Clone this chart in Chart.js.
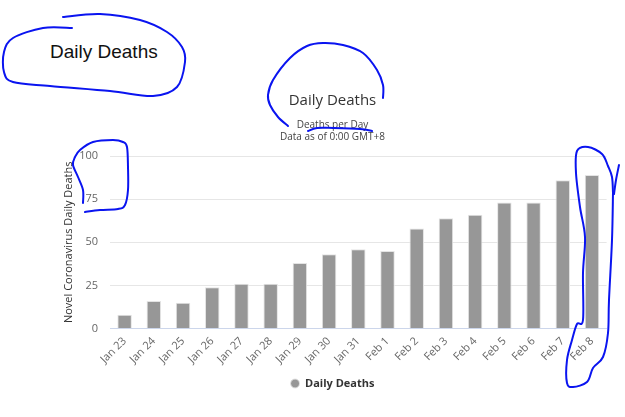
<!DOCTYPE html>
<html>
<head>
<meta charset="utf-8">
<script src="https://cdn.jsdelivr.net/npm/chart.js@4"></script>
<style>
  html, body { margin: 0; padding: 0; background: #fff; }
  #page { position: relative; width: 625px; height: 417px; overflow: hidden; }
  #note { position: absolute; left: 50px; top: 41px; font: 19px 'Liberation Sans', Arial, sans-serif; color: #111; line-height: 22px; }
  #wrap { position: absolute; left: 40px; top: 85px; width: 585px; height: 332px; }
  #ink { position: absolute; left: 0; top: 0; pointer-events: none; }
</style>
</head>
<body>
<div id="page">
  <div id="note">Daily Deaths</div>
  <div id="wrap"><canvas id="deaths-chart"></canvas></div>
  <svg id="ink" width="625" height="417"></svg>
</div>
<script>
const days = ['Jan 23', 'Jan 24', 'Jan 25', 'Jan 26', 'Jan 27', 'Jan 28', 'Jan 29', 'Jan 30', 'Jan 31',
              'Feb 1', 'Feb 2', 'Feb 3', 'Feb 4', 'Feb 5', 'Feb 6', 'Feb 7', 'Feb 8'];
const dailyDeaths = [8, 16, 15, 24, 26, 26, 38, 43, 46, 45, 58, 64, 66, 73, 73, 86, 89];
const yTicks = [0, 25, 50, 75, 100];

// hand drawn blue marks on top of the screenshot
const scribbles = [
    [[72,28],[43,28],[13,38],[4,52],[4,72],[13,82],[50,86],[110,91],[153,96],[177,87],[185,62],[182,47],[167,32],[140,20],[100,14],[63,17]],
    [[288,126],[278,117],[270,105],[268,95],[273,80],[290,58],[307,46],[323,43],[343,45],[363,53],[377,70],[383,85],[383,98]],
    [[308,131],[317,128],[333,128],[360,129],[372,131]],
    [[83,203],[83,190],[78,177],[73,165],[75,157],[80,150],[93,142],[113,140],[123,142],[127,147],[128,167],[128,190],[125,205],[118,209],[100,210],[85,212]],
    [[613,193],[612,177],[608,166],[602,154],[588,147],[577,151],[576,173],[580,207],[585,237],[583,273],[583,320],[577,324],[572,340],[567,360],[567,383],[573,387],[587,382],[593,368],[603,357],[608,333],[609,300],[612,240],[613,193]],
    [[619,165],[616,180],[614,194]]
];

function smoothPath(pts) {
    let d = 'M' + pts[0][0] + ',' + pts[0][1];
    for (let i = 0; i < pts.length - 1; i++) {
        const p0 = pts[i - 1] || pts[i], p1 = pts[i], p2 = pts[i + 1], p3 = pts[i + 2] || p2;
        const c1 = [p1[0] + (p2[0] - p0[0]) / 6, p1[1] + (p2[1] - p0[1]) / 6];
        const c2 = [p2[0] - (p3[0] - p1[0]) / 6, p2[1] - (p3[1] - p1[1]) / 6];
        d += ` C${c1[0]},${c1[1]} ${c2[0]},${c2[1]} ${p2[0]},${p2[1]}`;
    }
    return d;
}

const ink = document.getElementById('ink');
scribbles.forEach(pts => {
    const path = document.createElementNS('http://www.w3.org/2000/svg', 'path');
    path.setAttribute('d', smoothPath(pts));
    path.setAttribute('fill', 'none');
    path.setAttribute('stroke', '#0a14f0');
    path.setAttribute('stroke-width', '2');
    path.setAttribute('stroke-linecap', 'round');
    path.setAttribute('stroke-linejoin', 'round');
    ink.appendChild(path);
});

Chart.defaults.font.family = "'Open Sans', sans-serif";
Chart.defaults.color = '#666';

new Chart(document.getElementById('deaths-chart'), {
    type: 'bar',
    data: {
        labels: days,
        datasets: [{
            label: 'Daily Deaths',
            data: dailyDeaths,
            backgroundColor: '#979797',
            borderColor: '#e4e4e4',
            borderWidth: 1,
            categoryPercentage: 0.8,
            barPercentage: 0.62
        }]
    },
    options: {
        responsive: true,
        maintainAspectRatio: false,
        animation: false,
        layout: { padding: { left: 6, right: 6, top: 0, bottom: 18 } },
        plugins: {
            title: {
                display: true,
                text: 'Daily Deaths',
                color: '#333',
                font: { size: 15, weight: 'normal' },
                padding: { top: 7, bottom: 9 }
            },
            subtitle: {
                display: true,
                text: ['Deaths per Day', 'Data as of 0:00 GMT+8'],
                color: '#444',
                font: { size: 10, lineHeight: 1.2 },
                padding: { top: 0, bottom: 13 }
            },
            legend: {
                position: 'bottom',
                labels: {
                    usePointStyle: true,
                    pointStyle: 'circle',
                    pointStyleWidth: 9,
                    boxHeight: 6.4,
                    color: '#333',
                    font: { size: 11, weight: 'bold' },
                    padding: 6
                }
            },
            tooltip: { enabled: false }
        },
        scales: {
            x: {
                grid: { display: false, drawTicks: false },
                border: { color: '#ccd6eb' },
                ticks: { minRotation: 45, maxRotation: 45, autoSkip: false, padding: 6, font: { size: 11 } }
            },
            y: {
                min: 0,
                max: 100,
                afterBuildTicks: axis => { axis.ticks = yTicks.map(v => ({ value: v })); },
                afterFit: axis => { axis.width = 64; },
                grid: { color: '#e6e6e6', drawTicks: false },
                border: { display: false },
                ticks: { padding: 12, font: { size: 11 } },
                title: {
                    display: true,
                    text: 'Novel Coronavirus Daily Deaths',
                    color: '#333',
                    font: { size: 11 },
                    padding: { top: 16, bottom: 0 }
                }
            },
            // empty right margin, as in the original chart
            yRight: {
                position: 'right',
                grid: { display: false, drawTicks: false },
                border: { display: false },
                ticks: { display: false },
                afterFit: axis => { axis.width = 12.4; }
            }
        }
    }
});
</script>
</body>
</html>
